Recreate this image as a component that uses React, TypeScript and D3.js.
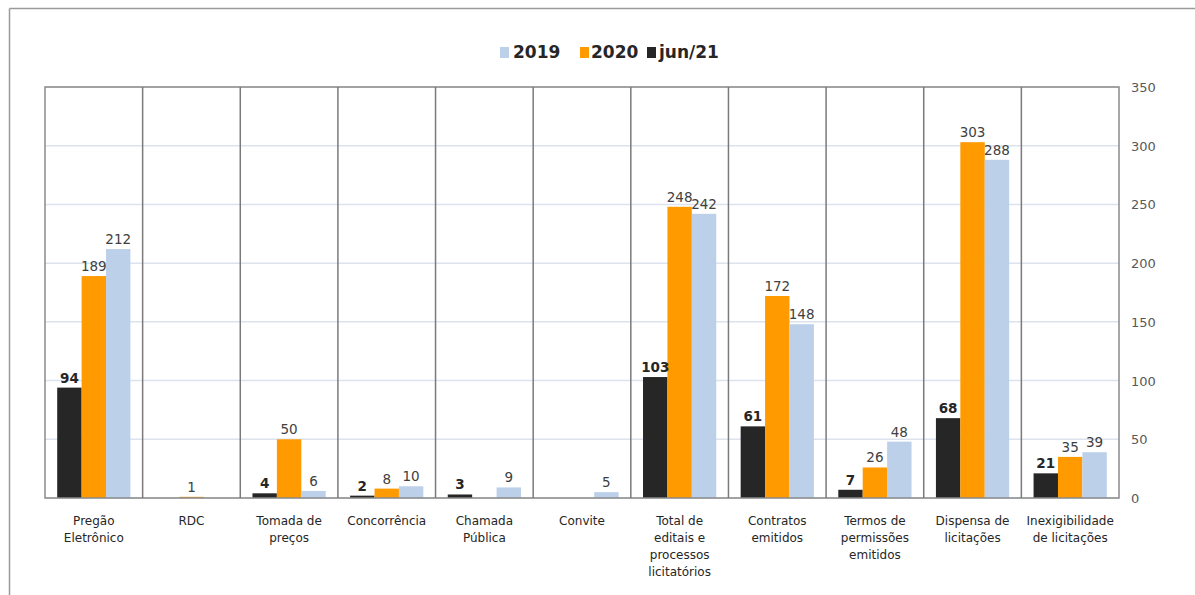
import React from "react";
import * as d3 from "d3";

const categories: string[][] = [
  ["Pregão", "Eletrônico"],
  ["RDC"],
  ["Tomada de", "preços"],
  ["Concorrência"],
  ["Chamada", "Pública"],
  ["Convite"],
  ["Total de", "editais e", "processos", "licitatórios"],
  ["Contratos", "emitidos"],
  ["Termos de", "permissões", "emitidos"],
  ["Dispensa de", "licitações"],
  ["Inexigibilidade", "de licitações"],
];

const seriesNames = ["jun/21", "2020", "2019"];
const legendOrder = ["2019", "2020", "jun/21"];

const valuesJun21: (number | null)[] = [94, null, 4, 2, 3, null, 103, 61, 7, 68, 21];
const values2020: (number | null)[] = [189, 1, 50, 8, null, null, 248, 172, 26, 303, 35];
const values2019: (number | null)[] = [212, null, 6, 10, 9, 5, 242, 148, 48, 288, 39];

const yTicks = [0, 50, 100, 150, 200, 250, 300, 350];

const colors: Record<string, string> = {
  "jun/21": "#262626",
  "2020": "#FF9A00",
  "2019": "#BCD0EA",
};

const seriesValues: Record<string, (number | null)[]> = {
  "jun/21": valuesJun21,
  "2020": values2020,
  "2019": values2019,
};

const FONT = "'DejaVu Sans', 'Open Sans', sans-serif";

export default function App() {
  const W = 1195;
  const H = 595;
  const left = 45;
  const right = 1119;
  const top = 87;
  const bottom = 498;

  const keys = categories.map((c) => c.join(" "));
  const x = d3.scaleBand<string>().domain(keys).range([left, right]).paddingInner(0).paddingOuter(0);
  const inner = d3
    .scaleBand<string>()
    .domain(seriesNames)
    .range([0, x.bandwidth()])
    .paddingInner(0)
    .paddingOuter(0.5);
  const y = d3.scaleLinear().domain([0, 350]).range([bottom, top]);

  const legendSquares = [500, 580, 647];
  const legendTexts = [513, 591, 659];

  return (
    <svg
      width={W}
      height={H}
      style={{ position: "absolute", left: 0, top: 0, background: "#fff" }}
      fontFamily={FONT}
    >
      {/* outer border */}
      <line x1={9.5} y1={8.5} x2={W} y2={8.5} stroke="#9a9a9a" strokeWidth={1.5} />
      <line x1={9.5} y1={8.5} x2={9.5} y2={H} stroke="#9a9a9a" strokeWidth={1.5} />

      {/* gridlines */}
      {yTicks.map((t) => (
        <line key={"g" + t} x1={left} x2={right} y1={y(t)} y2={y(t)} stroke="#DCE3EE" strokeWidth={1.5} />
      ))}

      {/* bars */}
      {keys.map((k, i) => (
        <g key={k} transform={`translate(${x(k)},0)`}>
          {seriesNames.map((s) => {
            const v = seriesValues[s][i];
            if (v === null) return null;
            const bx = inner(s)!;
            return (
              <rect
                key={s}
                x={bx}
                y={y(v)}
                width={inner.bandwidth()}
                height={Math.max(0, bottom - y(v))}
                fill={colors[s]}
              />
            );
          })}
        </g>
      ))}

      {/* frame and separators */}
      <rect x={left} y={top} width={right - left} height={bottom - top} fill="none" stroke="#8a8a8a" strokeWidth={1.5} />
      {keys.slice(1).map((k) => (
        <line key={"s" + k} x1={x(k)} x2={x(k)} y1={top} y2={bottom} stroke="#7a7a7a" strokeWidth={1.5} />
      ))}

      {/* data labels */}
      {keys.map((k, i) => (
        <g key={"l" + k} transform={`translate(${x(k)},0)`}>
          {seriesNames.map((s) => {
            const v = seriesValues[s][i];
            if (v === null) return null;
            const cx = inner(s)! + inner.bandwidth() / 2;
            return (
              <text
                key={s}
                x={cx}
                y={y(v) - 5}
                textAnchor="middle"
                fontSize={13.5}
                fontWeight={s === "jun/21" ? 700 : 400}
                fill={s === "jun/21" ? "#262626" : "#404040"}
              >
                {v}
              </text>
            );
          })}
        </g>
      ))}

      {/* right axis */}
      {yTicks.map((t) => (
        <text key={"t" + t} x={1131} y={y(t) + 5} fontSize={13} fill="#595959">
          {t}
        </text>
      ))}

      {/* category labels */}
      {categories.map((lines, i) => {
        const cx = x(keys[i])! + x.bandwidth() / 2;
        return (
          <text key={"c" + i} x={cx} y={525} textAnchor="middle" fontSize={12} fill="#262626">
            {lines.map((ln, j) => (
              <tspan key={j} x={cx} dy={j === 0 ? 0 : 17}>
                {ln}
              </tspan>
            ))}
          </text>
        );
      })}

      {/* legend */}
      {legendOrder.map((s, i) => (
        <g key={"leg" + s}>
          <rect x={legendSquares[i]} y={47} width={9} height={11} fill={colors[s]} />
          <text x={legendTexts[i]} y={58} fontSize={17} fontWeight={700} fill="#262626">
            {s}
          </text>
        </g>
      ))}
    </svg>
  );
}
